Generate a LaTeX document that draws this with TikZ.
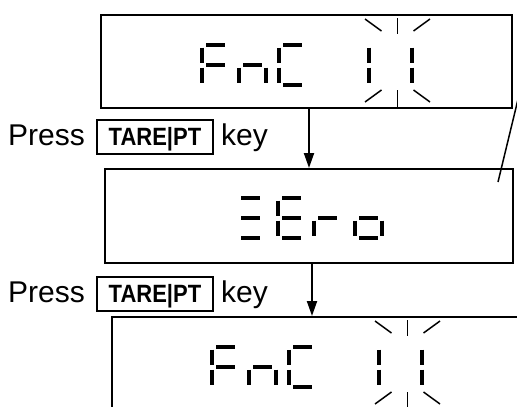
\documentclass[tikz,border=0pt]{standalone}
\usepackage{fontspec}
\usepackage{graphicx}
\setmainfont{Liberation Sans}
\usetikzlibrary{arrows.meta,positioning}

% seven segment pieces, x0/y0/x1/y1 from the cell corner
\def\segA{4/0/23/0}
\def\segB{27/2.5/27/17.5}
\def\segC{27/22.5/27/37.5}
\def\segD{4/40/23/40}
\def\segE{0/22.5/0/37.5}
\def\segF{0/2.5/0/17.5}
\def\segG{4/20/23/20}

\newcommand{\digit}[3]{%
  \edef\seglist{#3}%
  \begin{scope}[shift={(#1,#2)}]
    \foreach \xa/\ya/\xb/\yb in \seglist {\draw[seg] (\xa,\ya) -- (\xb,\yb);}
  \end{scope}}

\newcommand{\blink}[1]{%
  \foreach \sx in {-1,1} {
    \draw[ray] (#1+\sx*32.5,19) -- (#1+\sx*16,31);
    \draw[ray] (#1+\sx*32.5,102) -- (#1+\sx*16,90);
  }
  \draw[ray] (#1,18) -- (#1,34);
  \draw[ray] (#1,90) -- (#1,107);}

\newcommand{\keyname}[1]{\scalebox{0.88}[1]{#1}}

\begin{document}
\begin{tikzpicture}[x=1pt,y=-1pt,
    display/.style = {rectangle,draw,line width=2pt,minimum width=411pt,minimum height=93pt,inner sep=0pt},
    keybox/.style = {rectangle,draw,line width=2pt,minimum width=116pt,minimum height=34pt,inner sep=0pt,
      text height=17pt,text depth=0pt,font=\fontsize{25}{27}\selectfont\bfseries},
    word/.style = {inner sep=0pt,anchor=base west,font=\fontsize{30}{32}\selectfont},
    seg/.style = {line width=4pt},
    ray/.style = {line width=1.5pt},
    flow/.style = {line width=2pt,-{Triangle[length=15pt,width=10pt]}},
    leader/.style = {line width=1.5pt}]

  \useasboundingbox (0,0) rectangle (517,407);
  \clip (0,0) rectangle (517,407);

  \node[display] (disp1) at (306.5,61.5) {};
  \node[display,minimum width=408pt,minimum height=94pt] (disp2) at (309,216) {};
  \node[display,minimum width=410pt] (disp3) at (317,363.5) {};

  % FnC 11
  \digit{202}{45}{\segA,\segF,\segG,\segE}
  \digit{239}{45}{\segG,\segE,\segC}
  \digit{279}{45}{\segA,\segF,\segE,\segD}
  \digit{342}{45}{\segB,\segC}
  \digit{385}{45}{\segB,\segC}
  \blink{397.5}

  % ZEro
  \digit{237}{198}{\segA,\segG,\segD}
  \digit{278}{198}{\segA,\segF,\segG,\segE,\segD}
  \digit{314}{198}{\segG,\segE}
  \digit{355}{198}{\segG,\segE,\segC,\segD}

  % FnC 11 again
  \begin{scope}[shift={(10,302)}]
    \digit{202}{45}{\segA,\segF,\segG,\segE}
    \digit{239}{45}{\segG,\segE,\segC}
    \digit{279}{45}{\segA,\segF,\segE,\segD}
    \digit{342}{45}{\segB,\segC}
    \digit{385}{45}{\segB,\segC}
    \blink{397.5}
  \end{scope}

  \node[word] (press1) at (8,145) {Press};
  \node[keybox] (tare1) at (155,137) {\keyname{TARE|PT}};
  \node[word] (key1) at (221,145) {key};

  \node[word] (press2) at (8,302) {Press};
  \node[keybox] (tare2) at (155,294) {\keyname{TARE|PT}};
  \node[word] (key2) at (221,302) {key};

  \draw[flow] (disp1.south -| disp2.north) -- (disp2.north);
  \draw[flow] ([xshift=3pt]disp2.south) coordinate (tap2) -- (tap2 |- disp3.north);

  \coordinate (lead) at (520.5,89);
  \coordinate (leadend) at (498,182);
  \draw[leader] (lead) -- (leadend);

\end{tikzpicture}
\end{document}
